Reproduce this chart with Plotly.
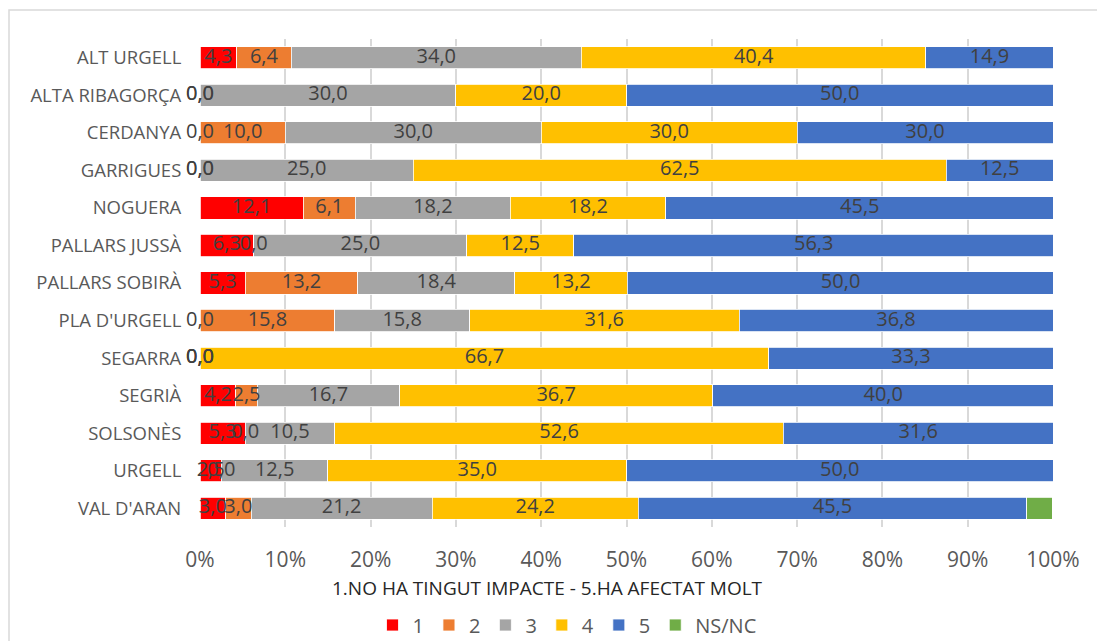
import plotly.graph_objects as go

# Comarques (top to bottom) and share of answers per score, in %
comarques = ["ALT URGELL", "ALTA RIBAGORÇA", "CERDANYA", "GARRIGUES", "NOGUERA",
             "PALLARS JUSSÀ", "PALLARS SOBIRÀ", "PLA D'URGELL", "SEGARRA", "SEGRIÀ",
             "SOLSONÈS", "URGELL", "VAL D'ARAN"]

s1 = [4.3, 0.0, 0.0, 0.0, 12.1, 6.3, 5.3, 0.0, 0.0, 4.2, 5.3, 2.5, 3.0]
s2 = [6.4, 0.0, 10.0, 0.0, 6.1, 0.0, 13.2, 15.8, 0.0, 2.5, 0.0, 0.0, 3.0]
s3 = [34.0, 30.0, 30.0, 25.0, 18.2, 25.0, 18.4, 15.8, 0.0, 16.7, 10.5, 12.5, 21.2]
s4 = [40.4, 20.0, 30.0, 62.5, 18.2, 12.5, 13.2, 31.6, 66.7, 36.7, 52.6, 35.0, 24.2]
s5 = [14.9, 50.0, 30.0, 12.5, 45.5, 56.3, 50.0, 36.8, 33.3, 40.0, 31.6, 50.0, 45.5]
nsnc = [0.0, 0.0, 0.0, 0.0, 0.0, 0.0, 0.0, 0.0, 0.0, 0.0, 0.0, 0.0, 3.0]

series_names = ["1", "2", "3", "4", "5", "NS/NC"]
series_values = [s1, s2, s3, s4, s5, nsnc]
series_colors = ["#FF0000", "#ED7D31", "#A5A5A5", "#FFC000", "#4472C4", "#70AD47"]
labelled = [True, True, True, True, True, False]

tick_vals = [0, 10, 20, 30, 40, 50, 60, 70, 80, 90, 100]
tick_text = [f"{v}%" for v in tick_vals]

FONT = "Open Sans"
GREY_TXT = "#595959"
LABEL_TXT = "#404040"

fig = go.Figure()

for name, vals, col in zip(series_names, series_values, series_colors):
    fig.add_trace(go.Bar(
        y=comarques, x=vals, name=name, orientation="h",
        marker=dict(color=col, line=dict(color="white", width=0.8)),
        hoverinfo="x+y+name",
    ))

# Data labels centred on each segment (zero segments sit on their start)
cum = [0.0] * len(comarques)
for vals, show in zip(series_values, labelled):
    mids = [c + v / 2 for c, v in zip(cum, vals)]
    if show:
        fig.add_trace(go.Scatter(
            x=mids, y=comarques, mode="text",
            text=[f"{v:.1f}".replace(".", ",") for v in vals],
            textposition="middle center",
            textfont=dict(family=FONT, size=20, color=LABEL_TXT),
            showlegend=False, hoverinfo="skip", cliponaxis=False,
        ))
    cum = [c + v for c, v in zip(cum, vals)]

L, R, T, B = 200, 44, 39, 114
W, H = 1097, 641
pw, ph = W - L - R, H - T - B


def px_x(p):
    return (p - L) / pw


def px_y(p):
    return (H - p - B) / ph


fig.update_layout(
    width=W, height=H,
    margin=dict(l=L, r=R, t=T, b=B, autoexpand=False),
    barmode="stack", bargap=0.41,
    paper_bgcolor="white", plot_bgcolor="white",
    font=dict(family=FONT, color=GREY_TXT, size=17),
    xaxis=dict(
        range=[0, 100], tickvals=tick_vals, ticktext=tick_text,
        showgrid=True, gridcolor="#D9D9D9", gridwidth=2,
        zeroline=False, showline=False,
        ticks="outside", ticklen=14, tickcolor="rgba(0,0,0,0)",
        tickfont=dict(family=FONT, size=21, color=GREY_TXT),
        fixedrange=True, automargin=False,
    ),
    yaxis=dict(
        categoryorder="array", categoryarray=comarques,
        range=[len(comarques) - 0.5, -0.5],
        showgrid=False, zeroline=False, showline=False,
        ticks="outside", ticklen=14, tickcolor="rgba(0,0,0,0)",
        tickfont=dict(family=FONT, size=18.5, color=GREY_TXT),
        fixedrange=True, automargin=False,
    ),
    legend=dict(
        orientation="h", x=567 / W, xanchor="center", xref="container",
        y=1 - 625 / H, yanchor="middle", yref="container",
        font=dict(family=FONT, size=20, color=GREY_TXT),
        traceorder="normal", itemwidth=30,
    ),
    annotations=[dict(
        text="1.NO HA TINGUT IMPACTE - 5.HA AFECTAT MOLT",
        xref="paper", yref="paper", x=px_x(547), y=px_y(588),
        xanchor="center", yanchor="middle", showarrow=False,
        font=dict(family=FONT, size=19, color="#262626"),
    )],
    # chart frame: only its top and left edges fall inside the page
    shapes=[dict(
        type="rect", xref="paper", yref="paper",
        x0=px_x(9), x1=px_x(1120), y0=px_y(670), y1=px_y(10),
        line=dict(color="#D9D9D9", width=1.5), layer="below",
    )],
)

fig.write_html("out.html")
